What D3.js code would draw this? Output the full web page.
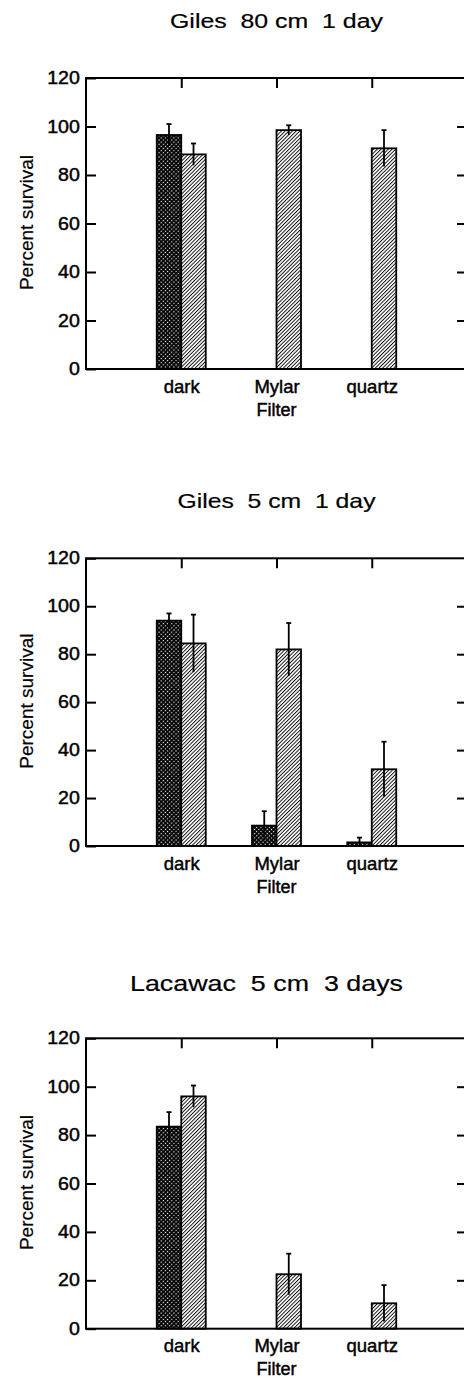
<!DOCTYPE html>
<html>
<head>
<meta charset="utf-8">
<script src="https://cdn.jsdelivr.net/npm/d3@7"></script>
<style>
  html, body { margin: 0; padding: 0; background: #fff; }
  svg { display: block; }
  text { font-family: "Liberation Sans", Arial, Helvetica, sans-serif; fill: #000; }
  text.lbl { stroke: #000; stroke-width: 0.45px; }
  text.ttl { stroke: #000; stroke-width: 0.2px; }
</style>
</head>
<body>
<svg id="chart" width="464" height="1378"></svg>
<script>
// ---- data ----
const categories = ["dark", "Mylar", "quartz"];
const panelTitles = ["Giles  80 cm  1 day", "Giles  5 cm  1 day", "Lacawac  5 cm  3 days"];
const yTickValues = [0, 20, 40, 60, 80, 100, 120];
const seriesNames = ["stippled", "hatched"];
// stippled (dark-patterned) bars, per panel, per category (null = no bar)
const stippledValues = [[96.5, null, null], [94, 8.5, 1.5], [83.5, null, null]];
const stippledErrors = [[4.5, null, null], [3, 6, 2], [6, null, null]];
// hatched bars
const hatchedValues = [[88.5, 98.5, 91], [84.5, 82, 32], [96, 22.5, 10.5]];
const hatchedErrors = [[4.5, 2, 7.5], [12, 11, 11.5], [4.5, 8.5, 7.5]];
const xAxisTitle = "Filter";
const yAxisTitle = "Percent survival";

// ---- layout ----
const left = 86, right = 467;
const panelTop = [78, 558.3, 1038.3];
const panelZero = [369, 846, 1328.7];
const titleBaseline = [28, 508, 990.7];
const titleFont = [20, 21, 22];
const titleWidth = [213, 198, 273];
const titleDx = [0, 0, -10];
const barW = 24.5;

const svg = d3.select("#chart");
const defs = svg.append("defs");

// stipple pattern: black with white dots
const stip = defs.append("pattern").attr("id", "stipple")
  .attr("patternUnits", "userSpaceOnUse").attr("width", 3).attr("height", 3)
  .attr("patternTransform", "rotate(45)");
stip.append("rect").attr("width", 3).attr("height", 3).attr("fill", "#000");
stip.append("circle").attr("cx", 1.5).attr("cy", 1.5).attr("r", 0.7).attr("fill", "#fff");

// hatch pattern: "/" lines
const hatch = defs.append("pattern").attr("id", "hatch")
  .attr("patternUnits", "userSpaceOnUse").attr("width", 2.6).attr("height", 4)
  .attr("patternTransform", "rotate(45)");
hatch.append("rect").attr("width", 2.6).attr("height", 4).attr("fill", "#fff");
hatch.append("line").attr("x1", 0.5).attr("x2", 0.5).attr("y1", 0).attr("y2", 4)
  .attr("stroke", "#000").attr("stroke-width", 0.9);

const x = d3.scalePoint().domain(categories).range([left, right]).padding(1);
const sub = d3.scaleBand().domain(seriesNames).range([-barW, barW]);
const fills = { stippled: "url(#stipple)", hatched: "url(#hatch)" };

panelTitles.forEach((title, p) => {
  const y = d3.scaleLinear().domain([0, 120]).range([panelZero[p], panelTop[p]]);
  const g = svg.append("g");

  // title
  g.append("text")
    .attr("class", "ttl")
    .attr("x", (left + right) / 2 + titleDx[p])
    .attr("y", titleBaseline[p])
    .attr("text-anchor", "middle")
    .attr("font-size", titleFont[p])
    .attr("textLength", titleWidth[p])
    .attr("lengthAdjust", "spacingAndGlyphs")
    .style("white-space", "pre")
    .text(title);

  // bars
  const rows = [];
  categories.forEach((c, i) => {
    rows.push({ c, s: "stippled", v: stippledValues[p][i], e: stippledErrors[p][i] });
    rows.push({ c, s: "hatched", v: hatchedValues[p][i], e: hatchedErrors[p][i] });
  });
  const present = rows.filter(d => d.v != null);

  g.selectAll("rect.bar").data(present).join("rect")
    .attr("class", "bar")
    .attr("x", d => x(d.c) + sub(d.s))
    .attr("width", sub.bandwidth())
    .attr("y", d => y(d.v))
    .attr("height", d => y(0) - y(d.v))
    .attr("fill", d => fills[d.s])
    .attr("stroke", "#000")
    .attr("stroke-width", 1.8);

  // error bars
  const eb = g.selectAll("g.err").data(present).join("g").attr("class", "err");
  eb.append("line")
    .attr("x1", d => x(d.c) + sub(d.s) + sub.bandwidth() / 2)
    .attr("x2", d => x(d.c) + sub(d.s) + sub.bandwidth() / 2)
    .attr("y1", d => y(Math.max(0, d.v - d.e)))
    .attr("y2", d => y(d.v + d.e))
    .attr("stroke", "#000").attr("stroke-width", 1.8);
  eb.append("line")
    .attr("x1", d => x(d.c) + sub(d.s) + sub.bandwidth() / 2 - 2.5)
    .attr("x2", d => x(d.c) + sub(d.s) + sub.bandwidth() / 2 + 2.5)
    .attr("y1", d => y(d.v + d.e))
    .attr("y2", d => y(d.v + d.e))
    .attr("stroke", "#000").attr("stroke-width", 1.8);

  // frame
  g.append("rect")
    .attr("x", left).attr("y", y(120))
    .attr("width", right - left).attr("height", y(0) - y(120))
    .attr("fill", "none").attr("stroke", "#000").attr("stroke-width", 2);

  // left axis
  const ax = g.append("g").attr("transform", `translate(${left},0)`)
    .call(d3.axisLeft(y).tickValues(yTickValues).tickSizeInner(-10).tickSizeOuter(0).tickPadding(5.5));
  ax.select(".domain").remove();
  ax.selectAll("line").attr("stroke-width", 2);
  ax.selectAll("text").attr("class", "lbl").attr("font-size", 17.5).attr("font-family", null)
    .attr("transform", "scale(1.12,1)");

  // right axis ticks (inward, no labels)
  const ar = g.append("g").attr("transform", `translate(${right},0)`)
    .call(d3.axisRight(y).tickValues(yTickValues.slice(1, -1)).tickSizeInner(-10).tickSizeOuter(0).tickFormat(""));
  ar.select(".domain").remove();
  ar.selectAll("line").attr("stroke-width", 2);

  // top ticks (inward, no labels)
  const at = g.append("g").attr("transform", `translate(0,${y(120)})`)
    .call(d3.axisTop(x).tickSizeInner(-10).tickSizeOuter(0).tickFormat(""));
  at.select(".domain").remove();
  at.selectAll("line").attr("stroke-width", 2);

  // bottom labels
  const ab = g.append("g").attr("transform", `translate(0,${y(0)})`)
    .call(d3.axisBottom(x).tickSize(0).tickPadding(10.5));
  ab.select(".domain").remove();
  ab.selectAll("text").attr("class", "lbl").attr("font-size", 18.5).attr("font-family", null);

  // x axis title
  g.append("text")
    .attr("class", "lbl")
    .attr("x", x("Mylar"))
    .attr("y", y(0) + 46.5)
    .attr("text-anchor", "middle")
    .attr("font-size", 18)
    .text(xAxisTitle);

  // y axis title
  g.append("text")
    .attr("class", "ttl")
    .attr("transform", `translate(33,${(y(0) + y(120)) / 2 - 1}) rotate(-90)`)
    .attr("text-anchor", "middle")
    .attr("font-size", 19)
    .text(yAxisTitle);
});
</script>
</body>
</html>
